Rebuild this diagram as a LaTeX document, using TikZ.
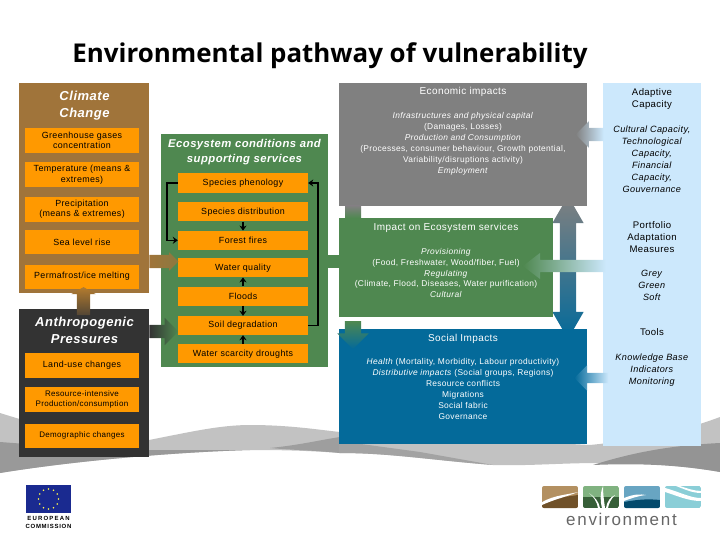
\documentclass[tikz,border=0pt]{standalone}
\usepackage{fontspec}
\setmainfont[LetterSpace=4]{Liberation Sans}
\newfontfamily\titlefont{Open Sans}
\usetikzlibrary{positioning,arrows.meta,calc,shapes.arrows}
\definecolor{brownpanel}{HTML}{A0743A}
\definecolor{orangebox}{HTML}{FF9900}
\definecolor{darkpanel}{HTML}{333333}
\definecolor{greenpanel}{HTML}{4F8850}
\definecolor{greypanel}{HTML}{808080}
\definecolor{bluepanel}{HTML}{046A9A}
\definecolor{lightpanel}{HTML}{CCE8FC}
\definecolor{flagblue}{HTML}{1A2A90}
\tikzset{
  panel/.style    = {anchor=north west, inner sep=0pt},
  tile/.style     = {fill=orangebox, align=center, inner sep=0pt, minimum width=114pt,
                     font=\fontsize{8.9}{10.5}\selectfont},
  tiles/.style    = {tile, font=\fontsize{8}{10}\selectfont},
  svc/.style      = {tile, minimum width=130pt, minimum height=19pt},
  heading/.style  = {text=white, align=center, inner sep=0pt,
                     font=\fontsize{13}{17}\selectfont\bfseries\itshape},
  body/.style     = {align=center, inner sep=0pt, font=\fontsize{8.4}{10.9}\selectfont},
  sideb/.style    = {body, font=\fontsize{9.1}{12}\selectfont},
  sidet/.style    = {body, font=\fontsize{9.6}{12}\selectfont},
  bandt/.style    = {body, text=white, font=\fontsize{10}{12}\selectfont},
  link/.style     = {-{Stealth[length=5pt,width=7pt]}, line width=1.5pt},
  flow/.style     = {single arrow, shape border rotate=180},
  wave/.style     = {draw=none}
}
\begin{document}
\begin{tikzpicture}[x=1pt,y=-1pt]
  \useasboundingbox (0,0) rectangle (720,540);
  % landscape behind the panels
  \fill[wave, fill=black!24] (0,413) .. controls (60,432) and (120,445) .. (149,440)
     .. controls (190,432) and (220,425) .. (250,425) .. controls (290,425) and (320,430) .. (340,432)
     -- (590,445) .. controls (640,440) and (680,432) .. (720,417) -- (720,472)
     .. controls (680,465) and (640,463) .. (600,463) .. controls (560,463) and (530,466) .. (493,465)
     .. controls (430,460) and (390,453) .. (340,453) .. controls (300,450) and (270,450) .. (250,450)
     .. controls (180,452) and (80,460) .. (0,473) -- cycle;
  \fill[wave, fill=black!40] (0,442) .. controls (50,446) and (100,448) .. (149,450)
     -- (250,450) .. controls (180,452) and (80,460) .. (0,473) -- cycle;
  \fill[wave, fill=black!38] (270,448) .. controls (300,445) and (320,440) .. (340,437)
     -- (340,453) .. controls (310,450) and (290,450) .. (270,448) -- cycle;
  \fill[wave, fill=black!36] (339,441) -- (420,452) -- (493,465)
     .. controls (430,460) and (390,453) .. (339,453) -- cycle;
  \fill[wave, fill=black!42] (593,465) .. controls (640,450) and (680,445) .. (720,443) -- (720,472)
     .. controls (680,465) and (640,463) .. (593,465) -- cycle;

  % arrow between economic and social impacts
  \node[double arrow, inner sep=8pt, minimum width=31pt, minimum height=143pt,
        double arrow head extend=7.5pt, double arrow tip angle=60, shape border rotate=90,
        top color=greypanel, bottom color=bluepanel] (flowrow) at (568,267.5) {};

  % panels
  \node[panel, fill=brownpanel, minimum width=130pt, minimum height=210pt] (climate) at (19,83) {};
  \node[panel, fill=darkpanel, minimum width=130pt, minimum height=148pt] (anthro) at (19,309) {};
  \node[panel, fill=greenpanel, minimum width=167pt, minimum height=233pt] (ecosys) at (161,134) {};
  \node[panel, fill=greypanel, minimum width=248pt, minimum height=123pt] (econ) at (339,83) {};
  \node[panel, fill=greenpanel, minimum width=214pt, minimum height=99pt] (impact) at (339,218) {};
  \node[panel, fill=bluepanel, minimum width=248pt, minimum height=115pt] (social) at (339,329) {};
  \node[panel, fill=lightpanel, minimum width=98pt, minimum height=363pt] (side) at (603,83) {};

  % climate change
  \node[heading] (climateT) at (84.5,105.5) {Climate\\Change};
  \node[tile, minimum height=25pt] (ghg) at (82,140.5) {Greenhouse gases\\concentration};
  \node[tile, minimum height=25pt, below=9pt of ghg] (temp) {Temperature (means \&\\extremes)};
  \node[tile, minimum height=25pt, below=9pt of temp] (precip) {Precipitation\\(means \& extremes)};
  \node[tile, minimum height=24pt, below=8pt of precip] (sea) {Sea level rise};
  \node[tile, minimum height=24pt, below=10pt of sea] (frost) {Permafrost/ice melting};

  % anthropogenic pressures
  \node[heading] (anthroT) at (84.5,330.5) {Anthropogenic\\Pressures};
  \node[tile, minimum height=25pt] (land) at (82,365.5) {Land-use changes};
  \node[tiles, minimum height=25pt, below=9pt of land] (resource) {Resource-intensive\\Production/consumption};
  \node[tiles, minimum height=24pt, below=11pt of resource] (demo) {Demographic changes};

  % ecosystem conditions
  \node[heading, font=\fontsize{11.3}{15.5}\selectfont\bfseries\itshape] (ecosysT) at (244.5,152)
     {Ecosystem conditions and\\supporting services};
  \node[svc, minimum height=20pt] (pheno) at (243,183) {Species phenology};
  \node[svc, below=9pt of pheno] (dist) {Species distribution};
  \node[svc, below=9pt of dist] (fires) {Forest fires};
  \node[svc, below=8pt of fires] (water) {Water quality};
  \node[svc, below=9pt of water] (floods) {Floods};
  \node[svc, below=10pt of floods] (soil) {Soil degradation};
  \node[svc, below=9pt of soil] (scarcity) {Water scarcity droughts};

  \draw[link] (pheno.west) -- ++(-11,0) |- (fires.west);
  \draw[link] (soil.east) -- ++(10,0) |- (pheno.east);
  \draw[link] (dist) -- (fires);
  \draw[link] (floods) -- (water);
  \draw[link] (floods) -- (soil);
  \draw[link] (scarcity) -- (soil);

  % impact texts
  \node[bandt] (econT) at (463,92) {Economic impacts};
  \node[body, text=white] (econB) at (463,144)
     {\textit{Infrastructures and physical capital}\\(Damages, Losses)\\\textit{Production and Consumption}\\
      (Processes, consumer behaviour, Growth potential,\\Variability/disruptions activity)\\\textit{Employment}};
  \node[bandt] (impactT) at (446,228) {Impact on Ecosystem services};
  \node[body, text=white] (impactB) at (446,273)
     {\textit{Provisioning}\\(Food, Freshwater, Wood/fiber, Fuel)\\\textit{Regulating}\\
      (Climate, Flood, Diseases, Water purification)\\\textit{Cultural}};
  \node[bandt] (socialT) at (463,339) {Social Impacts};
  \node[body, text=white] (socialB) at (463,389)
     {\textit{Health} (Mortality, Morbidity, Labour productivity)\\\textit{Distributive impacts} (Social groups, Regions)\\
      Resource conflicts\\Migrations\\Social fabric\\Governance};

  % side column
  \node[sidet] (adaptT) at (652,99) {Adaptive\\Capacity};
  \node[sideb] (adaptB) at (652,159) {\textit{Cultural Capacity,}\\\textit{Technological}\\\textit{Capacity,}\\\textit{Financial}\\\textit{Capacity,}\\\textit{Gouvernance}};
  \node[sidet] (portT) at (652,237) {Portfolio\\Adaptation\\Measures};
  \node[sideb] (portB) at (652,285) {\textit{Grey}\\\textit{Green}\\\textit{Soft}};
  \node[sidet] (toolsT) at (652,332.5) {Tools};
  \node[sideb] (toolsB) at (652,370) {\textit{Knowledge Base}\\\textit{Indicators}\\\textit{Monitoring}};

  % flows
  \node[flow, inner sep=6.5pt, minimum width=18pt, minimum height=29pt, shape border rotate=0, single arrow head extend=2.5pt,
        left color=brownpanel, right color=brownpanel!75!greenpanel] (flowclimate) at (160.5,261.5) {};
  \node[flow, inner sep=6.5pt, minimum width=27pt, minimum height=29pt, shape border rotate=0, single arrow head extend=7pt,
        left color=darkpanel, right color=greenpanel] (flowanthro) at (160.5,331.5) {};
  \node[fill=greenpanel, inner sep=0pt, minimum width=12pt, minimum height=13pt] (flowgreen) at (334,261.5) {};
  \node[flow, inner sep=6.5pt, minimum width=24pt, minimum height=28pt, shape border rotate=90, single arrow head extend=5.5pt,
        single arrow tip angle=120,
        top color=brownpanel!80!orangebox, middle color=orangebox!70!brownpanel, bottom color=darkpanel!70!brownpanel] (flowpress) at (83.5,303) {};
  \node[inner sep=0pt, minimum width=16pt, minimum height=12pt, top color=greypanel, bottom color=greenpanel] (flowup) at (353,212) {};
  \node[flow, inner sep=8pt, minimum width=31pt, minimum height=28pt, shape border rotate=270, single arrow head extend=7.5pt,
        top color=greenpanel, bottom color=bluepanel] (flowdown) at (353,331) {};
  \node[flow, inner sep=6.5pt, minimum width=26pt, minimum height=28pt, single arrow head extend=6.5pt,
        left color=greypanel, right color=lightpanel] (flowadapt) at (593,134.5) {};
  \node[flow, inner sep=6pt, minimum width=26pt, minimum height=83pt, single arrow head extend=7pt, single arrow tip angle=75,
        left color=greenpanel, right color=lightpanel] (flowport) at (568.5,266) {};
  \node[flow, inner sep=5pt, minimum width=25pt, minimum height=34pt, single arrow head extend=7.5pt,
        left color=bluepanel, right color=lightpanel] (flowtools) at (594,378) {};

  % european commission logo
  \node[fill=flagblue, inner sep=0pt, minimum width=45pt, minimum height=28pt] (flag) at (48.5,499) {};
  \foreach \a in {0,30,...,330} \fill[yellow!70!white] ($(flag)+(\a:10pt)$) circle (0.9pt);
  \node[inner sep=0pt, align=center, font=\fontsize{6}{8}\selectfont\bfseries] (eclabel) at (48.5,522)
     {\addfontfeature{LetterSpace=20}EUROPEAN\\\addfontfeature{LetterSpace=12}COMMISSION};

  % environment logo
  \begin{scope}
    \clip[rounded corners=2pt] (542,486) rectangle (578,508);
    \fill[brownpanel!80!white] (542,486) rectangle (578,508);
    \fill[brownpanel!70!black] (542,508) -- (542,502) .. controls (555,497) and (566,497) .. (578,495) -- (578,508) -- cycle;
    \fill[white] (542,502) .. controls (555,495) and (566,495) .. (578,492) .. controls (566,497) and (555,499) .. (542,505) -- cycle;
  \end{scope}
  \begin{scope}
    \clip[rounded corners=2pt] (583,486) rectangle (619,508);
    \fill[green!25!gray!80!white] (583,486) rectangle (619,497);
    \fill[greenpanel!70!black] (583,497) rectangle (619,508);
    \fill[white] (602,508) .. controls (600,500) and (600,494) .. (603,486) .. controls (603,495) and (604,500) .. (605,508) -- cycle;
    \fill[white] (598,508) .. controls (597,502) and (594,497) .. (589,493) .. controls (595,497) and (599,502) .. (600,508) -- cycle;
    \fill[white] (606,508) .. controls (607,502) and (610,497) .. (615,495) .. controls (611,499) and (609,503) .. (608,508) -- cycle;
  \end{scope}
  \begin{scope}
    \clip[rounded corners=2pt] (624,486) rectangle (660,508);
    \fill[bluepanel!60!white] (624,486) rectangle (660,508);
    \fill[bluepanel!70!black] (624,508) -- (624,502) .. controls (640,499) and (650,499) .. (660,500) -- (660,508) -- cycle;
    \fill[white] (624,498) .. controls (634,494) and (640,494) .. (646,495) .. controls (638,496) and (632,498) .. (624,501) -- cycle;
  \end{scope}
  \begin{scope}
    \clip[rounded corners=2pt] (665,486) rectangle (701,508);
    \fill[lightpanel!70!cyan!70!gray] (665,486) rectangle (701,508);
    \fill[white] (665,488) .. controls (680,492) and (690,498) .. (701,498) -- (701,501) .. controls (688,501) and (678,496) .. (665,492) -- cycle;
    \fill[white] (680,486) .. controls (686,488) and (694,491) .. (701,491) -- (701,493) .. controls (692,493) and (684,489) .. (676,486) -- cycle;
  \end{scope}
  \node[inner sep=0pt, text=black!60, font=\fontsize{17}{20}\selectfont] (envlabel) at (621.5,519)
     {\addfontfeature{LetterSpace=10}environment};

  % title
  \node[inner sep=0pt, font=\fontsize{25.9}{30}\selectfont\titlefont\bfseries] (maintitle) at (330,56)
     {Environmental pathway of vulnerability};
\end{tikzpicture}
\end{document}
